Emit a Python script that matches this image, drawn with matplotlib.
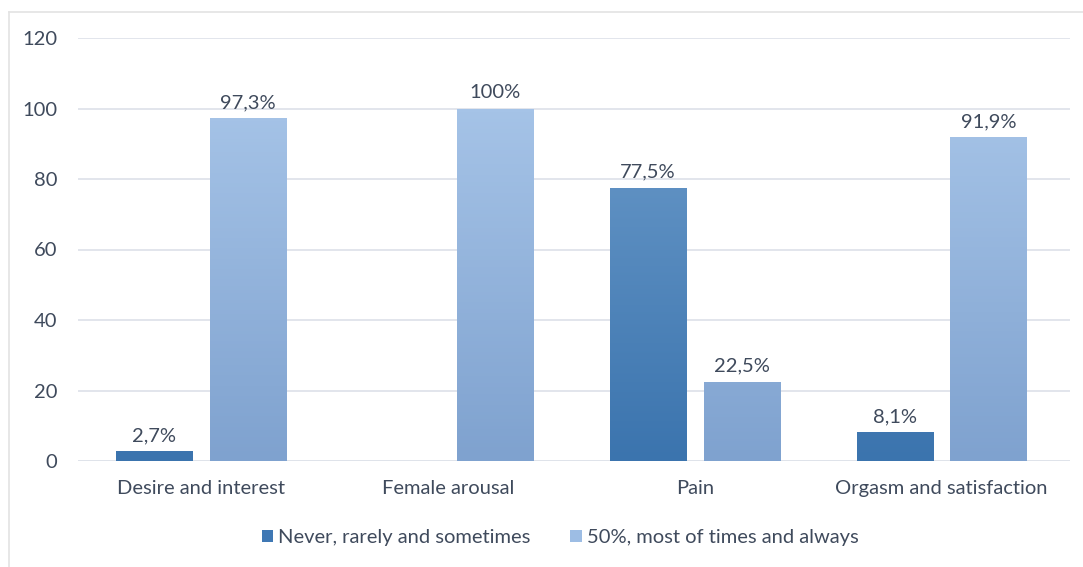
import numpy as np
import matplotlib
matplotlib.use("Agg")
import matplotlib.pyplot as plt
from matplotlib.colors import LinearSegmentedColormap
from matplotlib.lines import Line2D
from matplotlib.patches import Patch

categories = ["Desire and interest", "Female arousal", "Pain", "Orgasm and satisfaction"]
never_vals = [2.7, 0, 77.5, 8.1]
often_vals = [97.3, 100, 22.5, 91.9]
never_labels = ["2,7%", "", "77,5%", "8,1%"]
often_labels = ["97,3%", "100%", "22,5%", "91,9%"]
series_names = ["Never, rarely and sometimes", "50%, most of times and always"]
yticks = [0, 20, 40, 60, 80, 100, 120]

text_col = "#3f4a5c"
fs = 14.5
plt.rcParams["font.family"] = ["Lato", "DejaVu Sans"]

fig = plt.figure(figsize=(10.83, 5.67), dpi=100)
ax = fig.add_axes([78 / 1083, 1 - 461 / 567, 992 / 1083, 423 / 567])

# chart border (left and top only visible)
fig.add_artist(Line2D([9 / 1083, 9 / 1083], [0, 1 - 12 / 567], color="#e3e3e3", lw=1.2))
fig.add_artist(Line2D([9 / 1083, 1], [1 - 12 / 567, 1 - 12 / 567], color="#e3e3e3", lw=1.2))

x = np.arange(len(categories))
w = 0.31
off = 0.19

dark_cmap = LinearSegmentedColormap.from_list("d", ["#3b74ae", "#6898c8"])
light_cmap = LinearSegmentedColormap.from_list("l", ["#7fa2cf", "#a5c3e7"])

def grad_bars(xs, vals, cmap):
    bars = ax.bar(xs, vals, w, color="none", edgecolor="none", zorder=3)
    for b in bars:
        if b.get_height() <= 0:
            continue
        x0, y0 = b.get_x(), b.get_y()
        x1, y1 = x0 + b.get_width(), y0 + b.get_height()
        # gradient scales with the full axis height so small bars look darker
        g = np.linspace(y0 / 100, y1 / 100, 100).reshape(-1, 1)
        im = ax.imshow(g, cmap=cmap, vmin=0, vmax=1, extent=[x0, x1, y0, y1],
                       origin="lower", aspect="auto", zorder=3)
        im.set_clip_path(b)
    return bars

b1 = grad_bars(x - off, never_vals, dark_cmap)
b2 = grad_bars(x + off, often_vals, light_cmap)

for xi, v, lab in zip(x - off, never_vals, never_labels):
    if lab:
        ax.text(xi, v + 2, lab, ha="center", va="bottom", fontsize=fs, color=text_col)
for xi, v, lab in zip(x + off, often_vals, often_labels):
    ax.text(xi, v + 2, lab, ha="center", va="bottom", fontsize=fs, color=text_col)

ax.set_xlim(-0.5, 3.52)
ax.set_ylim(0, 120)
ax.set_yticks(yticks)
ax.set_yticklabels([str(t) for t in yticks], fontsize=fs, color=text_col)
ax.set_xticks(x)
ax.set_xticklabels(categories, fontsize=fs, color=text_col)
ax.tick_params(length=0, pad=14)
ax.tick_params(axis="y", pad=15)
ax.grid(axis="y", color="#dfe3ea", lw=1.3)
ax.set_axisbelow(True)
for s in ax.spines.values():
    s.set_visible(False)
ax.axhline(0, color="#dfe3ea", lw=1.3, zorder=2)

handles = [Patch(facecolor="#3f78b4"), Patch(facecolor="#9dbde4")]
fig.legend(handles, series_names, loc="center", bbox_to_anchor=(560 / 1083, 1 - 538 / 567),
           ncol=2, frameon=False, fontsize=fs, labelcolor=text_col,
           handlelength=0.55, handleheight=0.55, handletextpad=0.25, columnspacing=2.0)

fig.savefig("out.png", dpi=100, facecolor="white")
